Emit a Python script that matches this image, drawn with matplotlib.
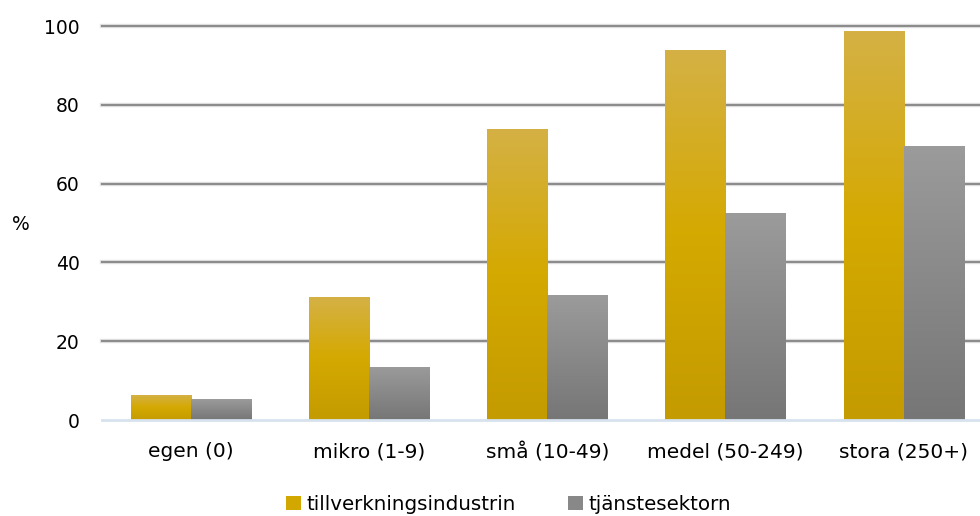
import matplotlib
matplotlib.use("Agg")
import matplotlib.pyplot as plt
import numpy as np
from matplotlib.colors import LinearSegmentedColormap
from matplotlib.patches import Patch

categories = ["egen (0)", "mikro (1-9)", "små (10-49)", "medel (50-249)", "stora (250+)"]
tillverkning = [6.3, 31.2, 73.9, 93.9, 98.7]
tjanste = [5.3, 13.5, 31.7, 52.5, 69.5]
series_names = ["tillverkningsindustrin", "tjänstesektorn"]
yticks = [0, 20, 40, 60, 80, 100]

plt.rcParams['font.family'] = ['DejaVu Sans']

fig = plt.figure(figsize=(9.8, 5.16), dpi=100)
ax = fig.add_axes([0.104, 0.186, 0.909, 0.7636])

x = np.arange(len(categories))
w = 0.337

gold_cmap = LinearSegmentedColormap.from_list(
    "gold", [(0.0, "#C49B00"), (0.5, "#D4A900"), (1.0, "#D5B145")])
gray_cmap = LinearSegmentedColormap.from_list(
    "gray", [(0.0, "#767676"), (1.0, "#9B9B9B")])

grad = np.linspace(0, 1, 256).reshape(-1, 1)

for vals, offset, cmap in [(tillverkning, -w / 2, gold_cmap), (tjanste, w / 2, gray_cmap)]:
    bars = ax.bar(x + offset, vals, width=w, color="none", edgecolor="none", zorder=3)
    for b in bars:
        x0, y0 = b.get_x(), b.get_y()
        x1, y1 = x0 + b.get_width(), y0 + b.get_height()
        im = ax.imshow(grad, cmap=cmap, origin="lower", aspect="auto",
                       extent=[x0, x1, y0, y1], zorder=3, interpolation="bilinear")
        im.set_clip_path(b)

ax.set_xlim(-0.5, len(categories) - 0.5)
ax.set_ylim(0, 100)
ax.set_yticks(yticks)
ax.set_xticks(x)
ax.set_xticklabels(categories, fontsize=14.5)
ax.tick_params(axis="y", labelsize=13.5, length=0, pad=16)
ax.tick_params(axis="x", length=0, pad=16)

for t in yticks[1:]:
    ax.axhline(t, color="#E6E6E6", lw=3.2, zorder=1, clip_on=False)
    ax.axhline(t, color="#8C8C8C", lw=1.6, zorder=2, clip_on=False)
ax.axhline(0, color="#D7E2EE", lw=2, zorder=4, clip_on=False)

for s in ax.spines.values():
    s.set_visible(False)

fig.text(0.021, 0.565, "%", fontsize=13.5, ha="center", va="center")

handles = [Patch(facecolor="#D2A700", edgecolor="none"),
           Patch(facecolor="#888888", edgecolor="none")]
fig.legend(handles, series_names, loc="center", bbox_to_anchor=(0.519, 0.022),
           ncol=2, frameon=False, fontsize=14.3, handlelength=0.75, handleheight=0.75,
           handletextpad=0.3, columnspacing=2.6)

fig.savefig("out.png", dpi=100)
